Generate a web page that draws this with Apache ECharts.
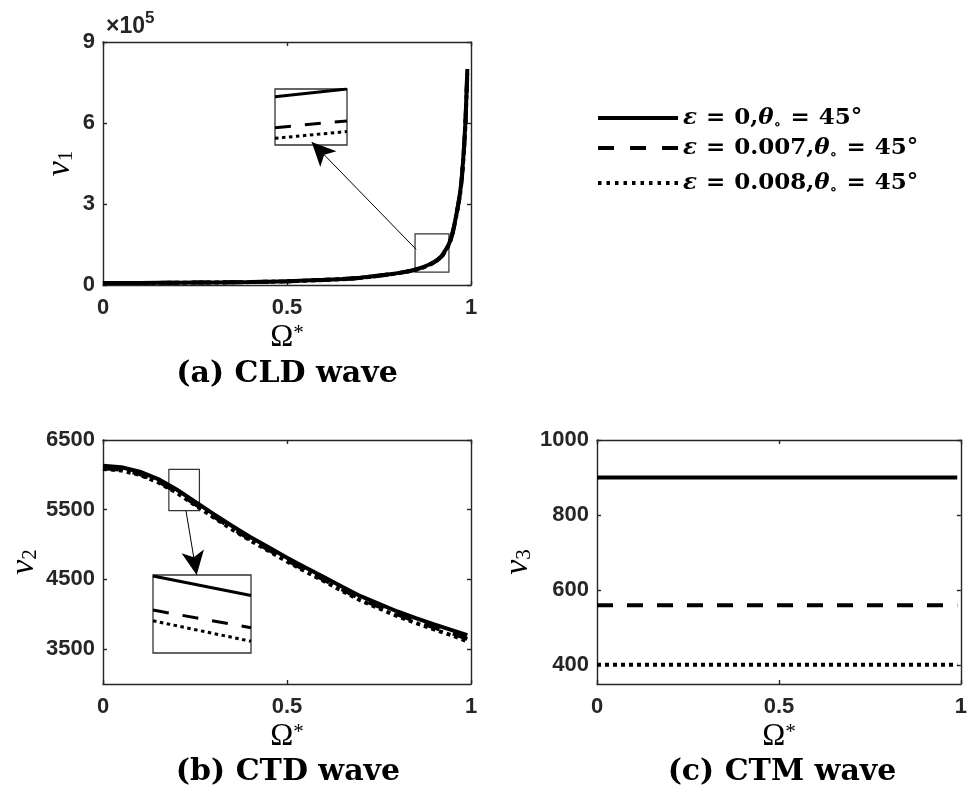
<!DOCTYPE html>
<html><head><meta charset="utf-8">
<script src="https://cdn.jsdelivr.net/npm/echarts@6/dist/echarts.min.js"></script>
<style>html,body{margin:0;padding:0;background:#fff}#c{width:970px;height:793px}</style>
</head><body><div id="c"></div>
<script>
// ---------- data ----------
const seriesNames = ['ε = 0,θ∘ = 45°', 'ε = 0.007,θ∘ = 45°', 'ε = 0.008,θ∘ = 45°'];
const legendRich = ['{e|ε}{q|=}0,{e|θ}{sub|∘}{q|=}45°', '{e|ε}{q|=}0.007,{e|θ}{sub|∘}{q|=}45°', '{e|ε}{q|=}0.008,{e|θ}{sub|∘}{q|=}45°'];

// (a) CLD wave
const omegaA = [0, 0.1, 0.2, 0.3, 0.4, 0.5, 0.6, 0.65, 0.7, 0.75, 0.8, 0.84, 0.87, 0.9, 0.92, 0.93, 0.94, 0.95, 0.96, 0.97, 0.975, 0.98, 0.985, 0.99];
const v1Solid = [7000, 7500, 8500, 9500, 11000, 14000, 19000, 22000, 27000, 35000, 44000, 54000, 66000, 85700, 107000, 128000, 152000, 195000, 260000, 340000, 400000, 490000, 610000, 800000];
const v1Dash  = [6900, 7400, 8400, 9400, 10800, 13800, 18700, 21700, 26600, 34500, 43300, 53200, 65000, 84600, 105400, 126100, 149700, 192000, 256000, 335000, 394000, 483000, 601000, 788000];
const v1Dot   = [6850, 7350, 8350, 9300, 10700, 13700, 18600, 21500, 26400, 34200, 43000, 52800, 64500, 84200, 104800, 125400, 148900, 191000, 255000, 333000, 392000, 480000, 598000, 784000];
const yTicksA = [0, 300000, 600000, 900000];
const yTickLabelsA = ['0', '3', '6', '9'];
// inset of (a)
const insetAX = [0.9, 0.9003];
const insetASolid = [85725, 86000];
const insetADash  = [84620, 84860];
const insetADot   = [84240, 84480];
const zoomBoxA = [[0.848, 48000], [0.940, 189000]];
const arrowA = [[0.851, 132000], [0.567, 530000]];

// (b) CTD wave
const omegaB = [0, 0.05, 0.1, 0.15, 0.2, 0.25, 0.3, 0.35, 0.4, 0.45, 0.5, 0.55, 0.6, 0.65, 0.7, 0.75, 0.8, 0.85, 0.9, 0.95, 0.99];
const v2Solid = [6130, 6110, 6045, 5940, 5790, 5615, 5440, 5270, 5110, 4960, 4810, 4670, 4535, 4395, 4260, 4150, 4040, 3945, 3855, 3770, 3700];
const v2Dash  = [6095, 6075, 6010, 5905, 5755, 5580, 5405, 5235, 5075, 4925, 4775, 4633, 4497, 4355, 4220, 4108, 3997, 3900, 3808, 3722, 3648];
const v2Dot   = [6085, 6064, 5998, 5893, 5743, 5567, 5391, 5220, 5059, 4908, 4757, 4614, 4477, 4334, 4198, 4085, 3973, 3875, 3782, 3694, 3612];
const yTicksB = [3500, 4500, 5500, 6500];
// inset of (b)
const insetBX = [0.200, 0.210];
const insetBSolid = [5789, 5769];
const insetBDash  = [5754, 5736];
const insetBDot   = [5743, 5722];
const zoomBoxB = [[0.179, 5486], [0.262, 6080]];
const arrowB = [[0.2255, 5486], [0.2546, 4563]];

// (c) CTM wave
const omegaC = [0, 0.25, 0.5, 0.75, 0.99];
const v3Solid = [900, 900, 900, 900, 900];
const v3Dash  = [560, 560, 560, 560, 560];
const v3Dot   = [401, 401, 401, 401, 401];
const yTicksC = [400, 600, 800, 1000];

// ---------- styles ----------
const AX = '#262626';
const lineStyles = [
  {color: '#000', width: 4, type: 'solid'},
  {color: '#000', width: 4, type: [16, 14]},
  {color: '#000', width: 4, type: [4, 4]}
];
const insetLineStyles = [
  {color: '#000', width: 3, type: 'solid'},
  {color: '#000', width: 3, type: [16, 14]},
  {color: '#000', width: 3, type: [3.5, 3.5]}
];
const legendIcons = [
  'path://M0,0H80V4H0Z',
  'path://M0,0H16V4H0Z M32,0H48V4H32Z M64,0H80V4H64Z',
  'path://M0,0H3.5V4H0Z M8.5,0H12V4H8.5Z M17,0H20.5V4H17Z M25.5,0H29V4H25.5Z M34,0H37.5V4H34Z M42.5,0H46V4H42.5Z M51,0H54.5V4H51Z M59.5,0H63V4H59.5Z M68,0H71.5V4H68Z M76.5,0H80V4H76.5Z'
];
const labelFont = {color: AX, fontFamily: 'Liberation Sans', fontWeight: 'bold', fontSize: 22};
const nameRich = {
  v: {fontFamily: 'Liberation Serif', fontStyle: 'italic', fontSize: 34, color: '#000', lineHeight: 34},
  s: {fontFamily: 'Liberation Serif', fontSize: 21, color: '#000', verticalAlign: 'bottom', lineHeight: 14},
  o: {fontFamily: 'Liberation Serif', fontSize: 31, color: '#000', lineHeight: 30},
  p: {fontFamily: 'Liberation Serif', fontSize: 21, color: '#000', verticalAlign: 'top', lineHeight: 30}
};

function zip(xs, ys) { return xs.map((x, i) => [x, ys[i]]); }

function xMain(grid) {
  return {
    type: 'value', gridIndex: grid, min: 0, max: 1, interval: 0.5, position: 'bottom',
    axisLine: {show: true, onZero: false, lineStyle: {color: AX, width: 1.4}},
    axisTick: {show: true, inside: true, length: 4, lineStyle: {color: AX, width: 1.4}},
    axisLabel: Object.assign({margin: 12}, labelFont),
    splitLine: {show: false},
    name: '{o|Ω}{p|*}', nameLocation: 'middle', nameGap: 38,
    nameTextStyle: {rich: nameRich}
  };
}
function xTop(grid) {
  return {
    type: 'value', gridIndex: grid, min: 0, max: 1, interval: 0.5, position: 'top',
    axisLine: {show: true, onZero: false, lineStyle: {color: AX, width: 1.4}},
    axisTick: {show: true, inside: true, length: 4, lineStyle: {color: AX, width: 1.4}},
    axisLabel: {show: false}, splitLine: {show: false}
  };
}
function yMain(grid, min, max, ticks, fmt, sub, gap) {
  return {
    type: 'value', gridIndex: grid, min: min, max: max, position: 'left',
    axisLine: {show: true, onZero: false, lineStyle: {color: AX, width: 1.4}},
    axisTick: {show: true, inside: true, length: 4, customValues: ticks, lineStyle: {color: AX, width: 1.4}},
    axisLabel: Object.assign({margin: 8, customValues: ticks, formatter: fmt}, labelFont),
    splitLine: {show: false},
    name: '{v|v}{s|' + sub + '}', nameLocation: 'middle', nameRotate: 90, nameGap: gap,
    nameTextStyle: {rich: nameRich}
  };
}
function yRight(grid, min, max, ticks) {
  return {
    type: 'value', gridIndex: grid, min: min, max: max, position: 'right',
    axisLine: {show: true, onZero: false, lineStyle: {color: AX, width: 1.4}},
    axisTick: {show: true, inside: true, length: 4, customValues: ticks, lineStyle: {color: AX, width: 1.4}},
    axisLabel: {show: false}, splitLine: {show: false}
  };
}
function hiddenAxis(grid, min, max) {
  return {type: 'value', gridIndex: grid, min: min, max: max, show: false, splitLine: {show: false}};
}

function lineSeries(i, xi, yi, data, styles, smooth, z) {
  return {
    type: 'line', name: seriesNames[i], xAxisIndex: xi, yAxisIndex: yi,
    data: data, showSymbol: false, symbol: 'none', smooth: smooth,
    itemStyle: {color: '#000'},
    lineStyle: styles[i], z: z + i, silent: true, clip: true
  };
}
function annot(box, arrow) {
  return {
    markArea: {
      silent: true, label: {show: false},
      itemStyle: {color: 'rgba(0,0,0,0)', borderColor: '#333', borderWidth: 1.2},
      data: [[{coord: box[0]}, {coord: box[1]}]]
    },
    markLine: {
      silent: true, symbol: ['none', 'arrow'], symbolSize: [17, 24],
      label: {show: false}, lineStyle: {color: '#000', width: 1, type: 'solid'},
      data: [[{coord: arrow[0]}, {coord: arrow[1]}]]
    }
  };
}

const sA = [
  lineSeries(0, 0, 0, zip(omegaA, v1Solid), lineStyles, 0.2, 3),
  lineSeries(1, 0, 0, zip(omegaA, v1Dash), lineStyles, 0.2, 3),
  lineSeries(2, 0, 0, zip(omegaA, v1Dot), lineStyles, 0.2, 3)
];
Object.assign(sA[0], annot(zoomBoxA, arrowA));
const sB = [
  lineSeries(0, 2, 2, zip(omegaB, v2Solid), lineStyles, false, 3),
  lineSeries(1, 2, 2, zip(omegaB, v2Dash), lineStyles, false, 3),
  lineSeries(2, 2, 2, zip(omegaB, v2Dot), lineStyles, false, 3)
];
Object.assign(sB[0], annot(zoomBoxB, arrowB));
const sC = [
  lineSeries(0, 4, 4, zip(omegaC, v3Solid), lineStyles, false, 3),
  lineSeries(1, 4, 4, zip(omegaC, v3Dash), lineStyles, false, 3),
  lineSeries(2, 4, 4, zip(omegaC, v3Dot), lineStyles, false, 3)
];
const sIA = [
  lineSeries(0, 6, 6, zip(insetAX, insetASolid), insetLineStyles, false, 20),
  lineSeries(1, 6, 6, zip(insetAX, insetADash), insetLineStyles, false, 20),
  lineSeries(2, 6, 6, zip(insetAX, insetADot), insetLineStyles, false, 20)
];
const sIB = [
  lineSeries(0, 7, 7, zip(insetBX, insetBSolid), insetLineStyles, false, 20),
  lineSeries(1, 7, 7, zip(insetBX, insetBDash), insetLineStyles, false, 20),
  lineSeries(2, 7, 7, zip(insetBX, insetBDot), insetLineStyles, false, 20)
];

const legendTops = [103, 133, 168];
const legendRichStyles = {
  e: {fontFamily: 'DejaVu Serif', fontStyle: 'italic', fontWeight: 'bold', fontSize: 23, color: '#000', lineHeight: 30},
  q: {fontFamily: 'DejaVu Serif', fontWeight: 'bold', fontSize: 23, color: '#000', lineHeight: 30, padding: [0, 9, 0, 9]},
  sub: {fontFamily: 'DejaVu Serif', fontWeight: 'bold', fontSize: 15, color: '#000', verticalAlign: 'bottom', lineHeight: 24}
};
const legends = seriesNames.map((n, i) => ({
  data: [{name: n, icon: legendIcons[i]}], left: 598, top: legendTops[i], orient: 'vertical', padding: 0, itemGap: 0,
  itemWidth: 80, itemHeight: 4, selectedMode: false,
  formatter: () => legendRich[i],
  textStyle: {fontFamily: 'DejaVu Serif', fontWeight: 'bold', fontSize: 23, color: '#000', lineHeight: 30, rich: legendRichStyles}
}));

const captionStyle = {fontFamily: 'DejaVu Serif', fontWeight: 'bold', fontSize: 30, color: '#000'};

const option = {
  animation: false,
  backgroundColor: '#fff',
  grid: [
    {left: 103, top: 42, width: 368, height: 243},
    {left: 103, top: 440, width: 368, height: 244},
    {left: 597, top: 440, width: 367, height: 244},
    {left: 275, top: 89, width: 72, height: 56, show: true, borderColor: '#333', borderWidth: 1.3, backgroundColor: '#fff', z: 5},
    {left: 153, top: 575, width: 98, height: 78, show: true, borderColor: '#333', borderWidth: 1.3, backgroundColor: '#fff', z: 5}
  ],
  xAxis: [
    xMain(0), xTop(0), xMain(1), xTop(1), xMain(2), xTop(2),
    hiddenAxis(3, insetAX[0], insetAX[1]), hiddenAxis(4, insetBX[0], insetBX[1])
  ],
  yAxis: [
    yMain(0, 0, 900000, yTicksA, v => yTickLabelsA[yTicksA.indexOf(v)], '1', 26),
    yRight(0, 0, 900000, yTicksA),
    yMain(1, 3000, 6500, yTicksB, v => String(v), '2', 62),
    yRight(1, 3000, 6500, yTicksB),
    yMain(2, 350, 1000, yTicksC, v => String(v), '3', 62),
    yRight(2, 350, 1000, yTicksC),
    hiddenAxis(3, 84000, 86000), hiddenAxis(4, 5710, 5790)
  ],
  legend: legends,
  title: [
    {text: '{a|×10}{b|5}', left: 106, top: 10, padding: 0,
     textStyle: {rich: {a: {fontFamily: 'Liberation Sans', fontSize: 23, color: AX, lineHeight: 28, verticalAlign: 'bottom'},
                        b: {fontFamily: 'Liberation Sans', fontSize: 17, color: AX, lineHeight: 28, verticalAlign: 'top'}}}},
    {text: '(a) CLD wave', left: 287, top: 359, textAlign: 'center', padding: 0, textStyle: captionStyle},
    {text: '(b) CTD wave', left: 288, top: 757, textAlign: 'center', padding: 0, textStyle: captionStyle},
    {text: '(c) CTM wave', left: 782, top: 757, textAlign: 'center', padding: 0, textStyle: captionStyle}
  ],
  series: [].concat(sA, sB, sC, sIA, sIB)
};

const chart = echarts.init(document.getElementById('c'), null, {renderer: 'canvas'});
chart.setOption(option);
</script>
</body></html>
